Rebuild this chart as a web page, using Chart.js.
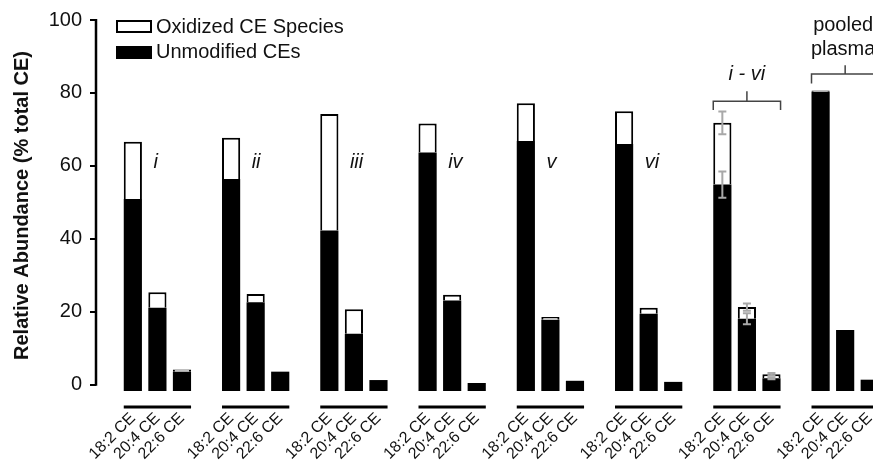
<!DOCTYPE html>
<html>
<head>
<meta charset="utf-8">
<script src="https://cdn.jsdelivr.net/npm/chart.js@4.4.1/dist/chart.umd.min.js"></script>
<style>
  html, body { margin: 0; padding: 0; background: #fff; overflow: hidden; width: 873px; height: 462px; }
  #wrap { width: 882px; height: 462px; }
</style>
</head>
<body>
<div id="wrap"><canvas id="chart" width="882" height="462"></canvas></div>
<script>
const groups = ["i", "ii", "iii", "iv", "v", "vi", "i - vi", "pooled plasma"];
const species = ["18:2 CE", "20:4 CE", "22:6 CE"];

// unmodified CEs (% total CE), one value per group
const unmod182 = [50.9, 56.4, 42.3, 63.7, 66.8, 66.0, 54.9, 80.3];
const unmod204 = [21.1, 22.6, 14.0, 23.1, 17.8, 19.5, 18.1, 15.0];
const unmod226 = [3.6, 3.6, 1.3, 0.5, 1.1, 0.8, 1.8, 1.4];

// oxidized CE species, stacked on top
const ox182 = [15.7, 11.3, 31.9, 7.9, 10.4, 9.0, 16.9, 0.4];
const ox204 = [4.3, 2.3, 6.7, 1.6, 0.8, 1.6, 3.2, 0];
const ox226 = [0.6, 0, 0, 0, 0, 0, 1.1, 0];

// error bars of the i - vi mean
const sdUnmod = [3.6, 1.5, 0.3];
const sdTotal = [3.1, 1.0, 0.3];

const yTicks = [0, 20, 40, 60, 80, 100];
const yMin = -1.7;

const FONT = "'Liberation Sans', Arial, sans-serif";

// each group: one empty gap slot + three bars
const labels = [];
const unmodData = [];
const oxData = [];
groups.forEach((g, gi) => {
  labels.push("");
  unmodData.push(null);
  oxData.push(null);
  const u = [unmod182[gi], unmod204[gi], unmod226[gi]];
  const o = [ox182[gi], ox204[gi], ox226[gi]];
  species.forEach((s, si) => {
    labels.push(s);
    unmodData.push(u[si]);
    oxData.push(o[si]);
  });
});

function slot(gi, si) {
  return gi * 4 + 1 + si;
}

const decorPlugin = {
  id: "decor",
  afterDatasetsDraw(chart) {
    const { ctx, chartArea, scales } = chart;
    const y = scales.y;
    const bars = chart.getDatasetMeta(0).data;
    ctx.save();

    // y axis line, only 0..100
    ctx.strokeStyle = "#000";
    ctx.lineWidth = 2.5;
    ctx.beginPath();
    ctx.moveTo(chartArea.left, y.getPixelForValue(0) + 1);
    ctx.lineTo(chartArea.left, y.getPixelForValue(100) - 1);
    ctx.stroke();

    // line under each group of bars
    ctx.lineWidth = 3;
    groups.forEach((g, gi) => {
      const a = bars[slot(gi, 0)];
      const b = bars[slot(gi, 2)];
      const ly = chartArea.bottom + 16;
      ctx.beginPath();
      ctx.moveTo(a.x - a.width / 2, ly);
      ctx.lineTo(b.x + b.width / 2, ly);
      ctx.stroke();
    });

    // sample labels i..vi
    ctx.fillStyle = "#111";
    ctx.font = "italic 20px " + FONT;
    ctx.textAlign = "left";
    ctx.textBaseline = "middle";
    for (let gi = 0; gi < 6; gi++) {
      const b = bars[slot(gi, 1)];
      ctx.fillText(groups[gi], b.x - 4, y.getPixelForValue(61));
    }

    // error bars for the mean
    ctx.strokeStyle = "#a8a8a8";
    ctx.lineWidth = 2;
    species.forEach((s, si) => {
      const b = bars[slot(6, si)];
      const u = unmodData[slot(6, si)];
      const t = u + oxData[slot(6, si)];
      [[u, sdUnmod[si]], [t, sdTotal[si]]].forEach(([v, sd]) => {
        const y1 = y.getPixelForValue(v + sd);
        const y2 = y.getPixelForValue(v - sd);
        ctx.beginPath();
        ctx.moveTo(b.x, y1); ctx.lineTo(b.x, y2);
        ctx.moveTo(b.x - 4, y1); ctx.lineTo(b.x + 4, y1);
        ctx.moveTo(b.x - 4, y2); ctx.lineTo(b.x + 4, y2);
        ctx.stroke();
      });
    });

    // brackets
    function bracket(gi, vLine, vEnd, vTop) {
      const a = bars[slot(gi, 0)];
      const m = bars[slot(gi, 1)];
      const c = bars[slot(gi, 2)];
      const x1 = a.x - a.width / 2;
      const x2 = c.x + c.width / 2;
      const yl = y.getPixelForValue(vLine);
      ctx.beginPath();
      ctx.moveTo(x1, y.getPixelForValue(vEnd));
      ctx.lineTo(x1, yl);
      ctx.lineTo(x2, yl);
      ctx.lineTo(x2, y.getPixelForValue(vEnd));
      ctx.moveTo(m.x, yl);
      ctx.lineTo(m.x, y.getPixelForValue(vTop));
      ctx.stroke();
      return m.x;
    }
    ctx.strokeStyle = "#444";
    ctx.lineWidth = 1.5;
    const mx1 = bracket(6, 77.7, 75.3, 80.5);
    const mx2 = bracket(7, 85.2, 82.6, 87.6);
    ctx.textAlign = "center";
    ctx.fillStyle = "#111";
    ctx.font = "italic 20px " + FONT;
    ctx.fillText(groups[6], mx1, y.getPixelForValue(85.1));
    ctx.font = "20px " + FONT;
    const pooled = groups[7].split(" ");
    ctx.fillText(pooled[0], mx2 - 2, y.getPixelForValue(98.4));
    ctx.fillText(pooled[1], mx2 - 2, y.getPixelForValue(91.9));

    // legend
    const lx = chartArea.left + 21;
    ctx.fillStyle = "#fff";
    ctx.strokeStyle = "#000";
    ctx.lineWidth = 2;
    ctx.fillRect(lx, 21, 34, 11);
    ctx.strokeRect(lx, 21, 34, 11);
    ctx.fillStyle = "#000";
    ctx.fillRect(lx - 1, 46, 36, 13);
    ctx.fillStyle = "#111";
    ctx.textAlign = "left";
    ctx.font = "20px " + FONT;
    ctx.fillText(chart.data.datasets[1].label, lx + 39, 27);
    ctx.fillText(chart.data.datasets[0].label, lx + 39, 52);

    ctx.restore();
  },
};

new Chart(document.getElementById("chart"), {
  type: "bar",
  data: {
    labels: labels,
    datasets: [
      {
        label: "Unmodified CEs",
        data: unmodData,
        backgroundColor: "#000",
        borderWidth: 0,
        base: yMin,
        barPercentage: 0.74,
        categoryPercentage: 1,
      },
      {
        label: "Oxidized CE Species",
        data: oxData,
        backgroundColor: "#fff",
        borderColor: "#000",
        borderWidth: 2,
        borderSkipped: "bottom",
        barPercentage: 0.74,
        categoryPercentage: 1,
      },
    ],
  },
  options: {
    responsive: false,
    animation: false,
    layout: { padding: { top: 17, right: 0, left: 0, bottom: 0 } },
    plugins: {
      legend: { display: false },
      tooltip: { enabled: false },
    },
    scales: {
      x: {
        stacked: true,
        grid: { display: false, drawTicks: false },
        border: { display: false },
        ticks: {
          autoSkip: false,
          maxRotation: 45,
          minRotation: 45,
          padding: 18,
          color: "#111",
          font: { family: FONT, size: 16 },
        },
        afterFit: (s) => {
          s.height = 71;
          s.paddingLeft = 0;
          s.paddingRight = 0;
        },
      },
      y: {
        stacked: true,
        min: yMin,
        max: 100,
        afterBuildTicks: (s) => { s.ticks = yTicks.map((v) => ({ value: v })); },
        grid: { drawOnChartArea: false, drawTicks: true, tickLength: 6, color: "#000", lineWidth: 2 },
        border: { display: false },
        ticks: { padding: 8, color: "#111", font: { family: FONT, size: 20 } },
        title: {
          display: true,
          text: "Relative Abundance (% total CE)",
          color: "#111",
          font: { family: FONT, size: 20, weight: "bold" },
          padding: { top: 10, bottom: 0 },
        },
        afterFit: (s) => { s.width = 96; },
      },
    },
  },
  plugins: [decorPlugin],
});
</script>
</body>
</html>
